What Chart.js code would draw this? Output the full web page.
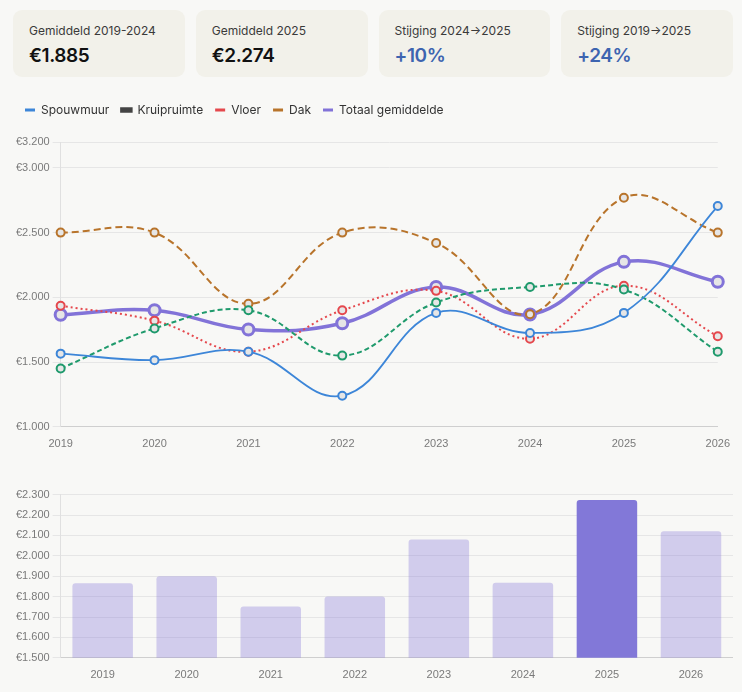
<!DOCTYPE html>
<html>
<head>
<meta charset="utf-8">
<script src="https://cdn.jsdelivr.net/npm/chart.js@4.4.1/dist/chart.umd.min.js"></script>
<style>
  html, body { margin: 0; padding: 0; background: #f8f8f6; }
  body { width: 742px; height: 692px; position: relative; font-family: Inter, "Noto Sans", sans-serif; overflow: hidden; }
  .kpis { position: absolute; left: 13px; top: 10px; width: 720px; display: grid; grid-template-columns: repeat(4, 1fr); gap: 11px; }
  .kpi { background: #f2f1ea; border-radius: 9px; height: 67px; box-sizing: border-box; padding: 13px 16px 0; }
  .kpi .lbl { font-size: 12px; color: #3a3a3a; line-height: 15px; }
  .kpi .val { font-size: 19px; font-weight: 600; color: #111; line-height: 24px; margin-top: 6px; letter-spacing: -0.4px; }
  .kpi .val.up { color: #3d64b0; }
  #wrapLine { position: absolute; left: 13px; top: 92px; width: 720px; height: 362px; }
  #wrapBar { position: absolute; left: 13px; top: 485px; width: 720px; height: 200px; }
</style>
</head>
<body>
<div class="kpis">
  <div class="kpi"><div class="lbl">Gemiddeld 2019-2024</div><div class="val">€1.885</div></div>
  <div class="kpi"><div class="lbl">Gemiddeld 2025</div><div class="val">€2.274</div></div>
  <div class="kpi"><div class="lbl">Stijging 2024→2025</div><div class="val up">+10%</div></div>
  <div class="kpi"><div class="lbl">Stijging 2019→2025</div><div class="val up">+24%</div></div>
</div>
<div id="wrapLine"><canvas id="lineChart"></canvas></div>
<div id="wrapBar"><canvas id="barChart"></canvas></div>
<script>
/* Gemiddelde prijzen per type isolatie, 2019-2026 */

const jaren = ['2019', '2020', '2021', '2022', '2023', '2024', '2025', '2026'];
const spouwmuur   = [1565, 1515, 1580, 1240, 1880, 1725, 1880, 2705];
const kruipruimte = [1450, 1760, 1900, 1550, 1960, 2080, 2060, 1580];
const vloer       = [1935, 1820, 1580, 1900, 2050, 1680, 2090, 1700];
const dak         = [2500, 2500, 1950, 2500, 2420, 1870, 2770, 2500];
const totaal      = [1865, 1900, 1752, 1800, 2080, 1868, 2274, 2120];
const highlightJaar = '2025';
const lijnTicks = [1000, 1500, 2000, 2500, 3000, 3200];
const staafTicks = [1500, 1600, 1700, 1800, 1900, 2000, 2100, 2200, 2300];

const tickFont = { family: "'Liberation Sans', Arial, sans-serif", size: 11 };
const fmtEUR = v => '€' + String(Math.round(v)).replace(/\B(?=(\d{3})+(?!\d))/g, '.');

function lineDs(label, data, color, extra) {
  return Object.assign({
    label, data, borderColor: color, backgroundColor: color,
    pointBackgroundColor: '#e6e6e6', pointBorderColor: color,
    pointRadius: 4, pointBorderWidth: 2, borderWidth: 1.8, tension: 0.4, fill: false
  }, extra || {});
}

const baseScales = (tickList) => ({
  x: {
    grid: { display: false },
    border: { color: '#cfcfcf' },
    ticks: { color: '#7a7a7a', font: tickFont }
  },
  y: {
    min: tickList[0], max: tickList[tickList.length - 1],
    grid: { color: '#e6e6e6' },
    border: { color: '#e0e0e0' },
    afterBuildTicks: axis => { axis.ticks = tickList.map(v => ({ value: v })); },
    ticks: { color: '#7a7a7a', font: tickFont, autoSkip: false, callback: v => fmtEUR(v) }
  }
});

new Chart(document.getElementById('lineChart'), {
  type: 'line',
  data: {
    labels: jaren,
    datasets: [
      lineDs('Spouwmuur', spouwmuur, '#3d86d8'),
      lineDs('Kruipruimte', kruipruimte, '#1f9a6c', { borderDash: [5, 3], borderWidth: 2 }),
      lineDs('Vloer', vloer, '#e5484d', { borderDash: [2, 3], borderWidth: 2 }),
      lineDs('Dak', dak, '#b8742b', { borderDash: [7, 4], borderWidth: 2 }),
      lineDs('Totaal gemiddelde', totaal, '#8273d8', { borderWidth: 3.5, pointRadius: 5.5, pointBorderWidth: 3 })
    ]
  },
  options: {
    responsive: true, maintainAspectRatio: false, animation: false,
    plugins: {
      legend: {
        align: 'start',
        labels: {
          boxWidth: 10, boxHeight: 3, padding: 12, color: '#333',
          font: { family: 'Inter', size: 12 },
          generateLabels: chart => Chart.defaults.plugins.legend.labels.generateLabels(chart).map(l => {
            if (l.text === 'Kruipruimte') { l.fillStyle = '#444'; l.strokeStyle = '#444'; l.lineWidth = 2.5; }
            else { l.strokeStyle = l.fillStyle; l.lineWidth = 0; }
            l.lineDash = []; return l;
          })
        }
      },
      tooltip: { enabled: false }
    },
    scales: baseScales(lijnTicks)
  },
  plugins: [{
    id: 'legendGap',
    beforeInit(chart) {
      const orig = chart.legend.fit;
      chart.legend.fit = function () { orig.bind(chart.legend)(); this.height += 16; };
    }
  }]
});

new Chart(document.getElementById('barChart'), {
  type: 'bar',
  data: {
    labels: jaren,
    datasets: [{
      label: 'Totaal gemiddelde',
      data: totaal,
      backgroundColor: jaren.map(j => j === highlightJaar ? '#8278d8' : 'rgba(130,115,216,0.33)'),
      borderRadius: 3, borderSkipped: 'bottom'
    }]
  },
  options: {
    responsive: true, maintainAspectRatio: false, animation: false,
    plugins: { legend: { display: false }, tooltip: { enabled: false } },
    scales: baseScales(staafTicks)
  }
});
</script>
</body>
</html>
